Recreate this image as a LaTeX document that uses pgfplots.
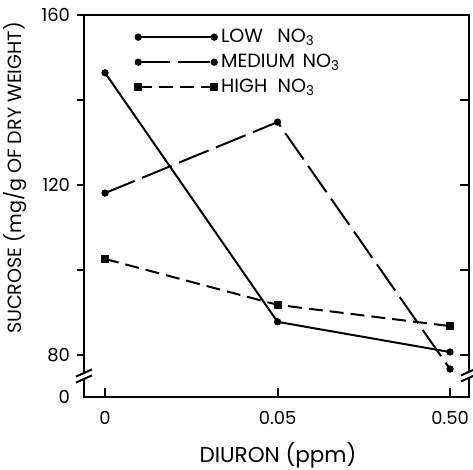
\documentclass[border=0pt]{standalone}
\usepackage{fontspec}
\setmainfont{Poppins}
\usepackage{pgfplots}
\pgfplotsset{compat=1.18}

\pgfplotsset{
  frame/.style={
    at={(42bp,36.5bp)}, anchor=south west,
    scale only axis, width=192.5bp, height=191bp,
    xmin=-0.122, xmax=2.11, ymin=70.12, ymax=160,
  },
  pt/.style={line width=1pt, mark size=1.3pt, mark options={solid}},
}

\begin{document}
\begin{tikzpicture}
\useasboundingbox (0,0) rectangle (236.5bp,235bp);

\begin{axis}[
  frame,
  axis line style={line width=1pt},
  tick align=outside, major tick length=3.5bp,
  tick style={line width=1pt, black},
  xtick={0,1,2}, xticklabels={0,0.05,0.50},
  xtick style={draw=none},
  ytick={80,100,120,140,160}, yticklabels={80,,120,,160},
  ytick pos=left,
  extra y ticks={70.12}, extra y tick labels={0},
  extra y tick style={major tick style={draw=none}},
  /pgf/number format/assume math mode=true,
  ticklabel style={font=\fontsize{9}{11}\selectfont},
  xlabel={DIURON (ppm)},
  xlabel style={at={(axis description cs:0.504,-0.152)}, anchor=center,
    font=\fontsize{10.8}{13}\selectfont},
  ylabel={SUCROSE (mg/g OF DRY WEIGHT)},
  ylabel style={at={(axis description cs:-0.179,0.573)}, anchor=center,
    font=\fontsize{9.6}{11}\selectfont},
  legend image code/.code={\draw[#1] plot coordinates {(0bp,0bp) (38bp,0bp)};},
  legend cell align=left,
  legend style={draw=none, fill=none, inner sep=0pt, row sep=0.3bp,
    at={(axis description cs:0.132,0.975)}, anchor=north west,
    font=\fontsize{9.6}{11}\selectfont},
]
\addplot[pt, mark=*] coordinates {(0,146.4) (1,87.8) (2,80.7)};
\addlegendentry{LOW\hspace{0.75em}NO\textsubscript{3}}
\addplot[pt, mark=*, dash pattern=on 16bp off 4bp] coordinates {(0,118.1) (1,134.8) (2,76.7)};
\addlegendentry{MEDIUM\hspace{0.4em}NO\textsubscript{3}}
\addplot[pt, mark=square*, mark size=1.5pt, dash pattern=on 7bp off 3.5bp] coordinates {(0,102.6) (1,91.8) (2,86.8)};
\addlegendentry{HIGH\hspace{0.55em}NO\textsubscript{3}}
\coordinate (bl) at (axis description cs:0,0.055);
\coordinate (br) at (axis description cs:1,0.058);
\end{axis}

% inward ticks on the bottom and right sides
\begin{axis}[
  frame,
  axis line style={draw=none},
  tick align=inside, major tick length=4.5bp,
  tick style={line width=1pt, black},
  xtick={0,1,2}, xticklabels={}, xtick pos=bottom,
  ytick={80,100,120,140,160}, yticklabels={}, ytick pos=right,
]
\end{axis}

% axis breaks
\foreach \p in {bl,br}{
  \fill[white] ([xshift=-1.5bp,yshift=-1.5bp]\p) rectangle ([xshift=1.5bp,yshift=1.5bp]\p);
  \draw[line width=1pt] ([xshift=-4bp,yshift=-3.3bp]\p) -- ([xshift=4bp,yshift=0.3bp]\p);
  \draw[line width=1pt] ([xshift=-4bp,yshift=-0.3bp]\p) -- ([xshift=4bp,yshift=3.3bp]\p);
}
\end{tikzpicture}
\end{document}
